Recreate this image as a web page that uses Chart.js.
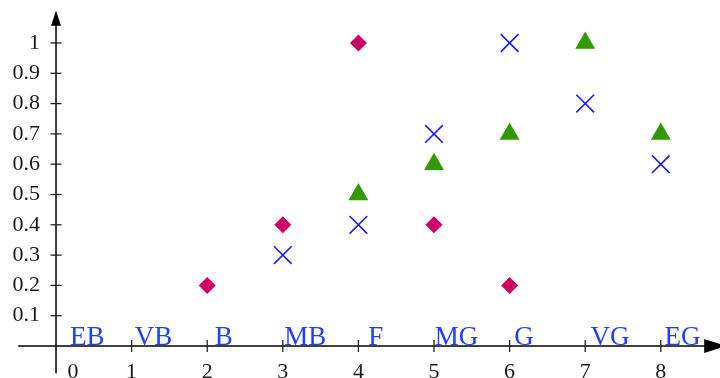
<!DOCTYPE html>
<html><head><meta charset="utf-8">
<script src="https://cdn.jsdelivr.net/npm/chart.js@4"></script>
<style>html,body{margin:0;padding:0;background:#fff;}#wrap{width:720px;height:378px;}</style>
</head><body><div id="wrap"><canvas id="c" width="720" height="378"></canvas></div>
<script>
const categories = ["EB","VB","B","MB","F","MG","G","VG","EG"];
const categoryLabelX = [0.185,1.04,2.1,3.02,4.13,5.01,6.06,7.07,8.05];
const xTicks = [0,1,2,3,4,5,6,7,8];
const yTicks = [0.1,0.2,0.3,0.4,0.5,0.6,0.7,0.8,0.9,1];
const diamondX = [2,3,4,5,6];
const diamondY = [0.2,0.4,1,0.4,0.2];
const crossX = [3,4,5,6,7,8];
const crossY = [0.3,0.4,0.7,1,0.8,0.6];
const triangleX = [4,5,6,7,8];
const triangleY = [0.5,0.6,0.7,1,0.7];

const pts = (xs, ys) => xs.map((x,i)=>({x, y: ys[i]}));
const SERIF = '"Liberation Serif", "DejaVu Serif", serif';

const axesPlugin = {
  id: 'axesPlugin',
  beforeDatasetsDraw(chart){
    const ctx = chart.ctx, xs = chart.scales.x, ys = chart.scales.y;
    const x0 = xs.getPixelForValue(0), y0 = ys.getPixelForValue(0);
    ctx.save();
    ctx.strokeStyle = '#000'; ctx.fillStyle = '#000'; ctx.lineWidth = 1.5;
    // x axis
    const xl = xs.getPixelForValue(-0.5), xr = xs.getPixelForValue(8.6);
    ctx.beginPath(); ctx.moveTo(xl, y0); ctx.lineTo(xr, y0); ctx.stroke();
    ctx.beginPath(); ctx.moveTo(xr+20, y0); ctx.lineTo(xr-2, y0-7); ctx.lineTo(xr-2, y0+7); ctx.closePath(); ctx.fill();
    // y axis
    const yb = ys.getPixelForValue(-0.09), yt = ys.getPixelForValue(1.06);
    ctx.beginPath(); ctx.moveTo(x0, yb); ctx.lineTo(x0, yt); ctx.stroke();
    ctx.beginPath(); ctx.moveTo(x0, yt-14); ctx.lineTo(x0-5, yt+1); ctx.lineTo(x0+5, yt+1); ctx.closePath(); ctx.fill();
    // ticks
    ctx.strokeStyle = '#222'; ctx.lineWidth = 1.3;
    ctx.font = '22px ' + SERIF; ctx.fillStyle = '#1a1a1a';
    ctx.textAlign = 'right'; ctx.textBaseline = 'middle';
    yTicks.forEach(v=>{
      const p = ys.getPixelForValue(v);
      ctx.beginPath(); ctx.moveTo(x0-5.5, p); ctx.lineTo(x0+5.5, p); ctx.stroke();
      ctx.fillText(String(v), x0-16, p);
    });
    ctx.textAlign = 'center'; ctx.textBaseline = 'top';
    xTicks.forEach(v=>{
      const p = xs.getPixelForValue(v);
      if (v !== 0) { ctx.beginPath(); ctx.moveTo(p, y0-6); ctx.lineTo(p, y0+6); ctx.stroke(); }
      ctx.fillText(String(v), p + (v===0?17:0), y0+15);
    });
    // category labels
    ctx.font = '27px ' + SERIF; ctx.fillStyle = '#1f3fff';
    ctx.textAlign = 'left'; ctx.textBaseline = 'alphabetic';
    categories.forEach((c,i)=>{
      ctx.fillText(c, xs.getPixelForValue(categoryLabelX[i]), y0-1);
    });
    ctx.restore();
  }
};

new Chart(document.getElementById('c'), {
  type: 'scatter',
  data: { datasets: [
    { label:'diamond', data: pts(diamondX, diamondY), pointStyle:'rectRot', pointRadius:8.5, backgroundColor:'#cc0066', borderColor:'#cc0066', borderWidth:0 },
    { label:'cross', data: pts(crossX, crossY), pointStyle:'crossRot', pointRadius:12.5, backgroundColor:'#1a1aff', borderColor:'#1a1aff', borderWidth:1.6 },
    { label:'triangle', data: pts(triangleX, triangleY), pointStyle:'triangle', pointRadius:11.5, backgroundColor:'#339900', borderColor:'#339900', borderWidth:0 }
  ]},
  options: {
    responsive:false, animation:false, devicePixelRatio:1,
    layout:{padding:0, autoPadding:false},
    plugins:{legend:{display:false}, tooltip:{enabled:false}},
    scales:{
      x:{type:'linear', min:-0.741, max:8.783, display:false},
      y:{type:'linear', min:-0.1056, max:1.1419, display:false}
    }
  },
  plugins:[axesPlugin]
});
</script></body></html>
